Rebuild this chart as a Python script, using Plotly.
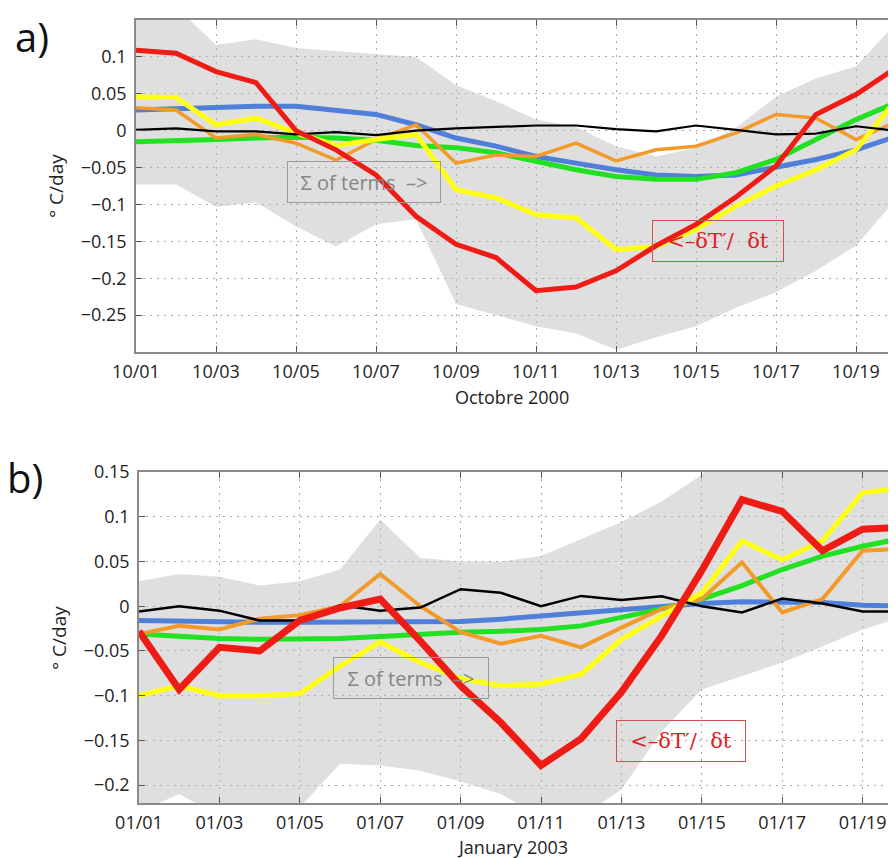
import plotly.graph_objects as go

# page window (the html body adds an 8 px margin around the figure)
PAGE_W, PAGE_H = 896, 858
OFF = 8
W, H = PAGE_W - OFF, PAGE_H - OFF

# ---------------- data: panel a (Octobre 2000) ----------------
days_a = list(range(1, 21))
red_a = [0.109, 0.105, 0.080, 0.065, 0.000, -0.026, -0.060, -0.116, -0.154, -0.172,
         -0.217, -0.212, -0.190, -0.156, -0.127, -0.090, -0.048, 0.022, 0.049, 0.085]
yellow_a = [0.046, 0.045, 0.008, 0.017, -0.003, -0.020, -0.012, -0.005, -0.080, -0.091,
            -0.114, -0.118, -0.161, -0.157, -0.134, -0.102, -0.075, -0.053, -0.026, 0.042]
blue_a = [0.028, 0.030, 0.031, 0.033, 0.033, 0.028, 0.022, 0.008, -0.010, -0.021,
          -0.035, -0.044, -0.053, -0.060, -0.062, -0.060, -0.050, -0.039, -0.026, -0.008]
green_a = [-0.015, -0.014, -0.012, -0.010, -0.009, -0.010, -0.013, -0.020, -0.023, -0.030,
           -0.042, -0.053, -0.062, -0.066, -0.066, -0.057, -0.039, -0.012, 0.015, 0.038]
orange_a = [0.031, 0.028, -0.010, -0.005, -0.017, -0.040, -0.012, 0.008, -0.044, -0.033,
            -0.035, -0.017, -0.041, -0.026, -0.021, -0.003, 0.022, 0.017, -0.012, 0.012]
black_a = [0.001, 0.003, -0.001, -0.001, -0.005, -0.002, -0.006, 0.000, 0.003, 0.005,
           0.007, 0.007, 0.002, -0.001, 0.007, 0.001, -0.005, -0.004, 0.006, 0.000]
upper_a = [0.190, 0.168, 0.116, 0.124, 0.112, 0.108, 0.103, 0.100, 0.062, 0.040,
           0.015, 0.005, -0.021, -0.035, -0.023, 0.004, 0.046, 0.071, 0.087, 0.146]
lower_a = [-0.073, -0.073, -0.103, -0.097, -0.130, -0.157, -0.127, -0.120, -0.235, -0.250,
           -0.265, -0.275, -0.297, -0.280, -0.265, -0.240, -0.219, -0.190, -0.156, -0.093]
xtick_days_a = [1, 3, 5, 7, 9, 11, 13, 15, 17, 19]
xtick_text_a = ["10/01", "10/03", "10/05", "10/07", "10/09", "10/11", "10/13", "10/15", "10/17", "10/19"]
ytick_vals_a = [0.1, 0.05, 0, -0.05, -0.1, -0.15, -0.2, -0.25]
ytick_text_a = ["0.1", "0.05", "0", "\u22120.05", "\u22120.1", "\u22120.15", "\u22120.2", "\u22120.25"]

# ---------------- data: panel b (January 2003) ----------------
days_b = list(range(1, 21))
red_b = [-0.028, -0.093, -0.046, -0.050, -0.016, -0.002, 0.008, -0.039, -0.089, -0.130,
         -0.178, -0.148, -0.096, -0.033, 0.040, 0.119, 0.106, 0.062, 0.086, 0.088]
yellow_b = [-0.100, -0.089, -0.100, -0.100, -0.098, -0.067, -0.040, -0.063, -0.081, -0.089,
            -0.087, -0.076, -0.037, -0.011, 0.015, 0.073, 0.052, 0.073, 0.127, 0.132]
orange_b = [-0.031, -0.022, -0.026, -0.014, -0.010, 0.000, 0.036, 0.000, -0.029, -0.042,
            -0.033, -0.046, -0.024, -0.003, 0.008, 0.049, -0.007, 0.008, 0.062, 0.064]
green_b = [-0.031, -0.034, -0.036, -0.037, -0.037, -0.036, -0.034, -0.031, -0.029, -0.028,
           -0.026, -0.022, -0.013, -0.003, 0.008, 0.023, 0.041, 0.056, 0.067, 0.076]
blue_b = [-0.016, -0.017, -0.017, -0.018, -0.018, -0.018, -0.018, -0.018, -0.017, -0.0145,
          -0.011, -0.007, -0.003, 0.000, 0.003, 0.005, 0.005, 0.004, 0.001, 0.000]
black_b = [-0.006, 0.000, -0.005, -0.016, -0.016, 0.001, -0.005, -0.0015, 0.019, 0.015,
           0.000, 0.0115, 0.007, 0.011, 0.000, -0.007, 0.0086, 0.003, -0.006, -0.006]
upper_b = [0.028, 0.036, 0.033, 0.023, 0.028, 0.041, 0.097, 0.054, 0.050, 0.050,
           0.056, 0.075, 0.094, 0.117, 0.147, 0.200, 0.220, 0.230, 0.240, 0.250]
lower_b = [-0.230, -0.210, -0.235, -0.235, -0.225, -0.176, -0.178, -0.184, -0.196, -0.210,
           -0.235, -0.235, -0.205, -0.140, -0.093, -0.078, -0.063, -0.045, -0.026, -0.012]
xtick_days_b = [1, 3, 5, 7, 9, 11, 13, 15, 17, 19]
xtick_text_b = ["01/01", "01/03", "01/05", "01/07", "01/09", "01/11", "01/13", "01/15", "01/17", "01/19"]
ytick_vals_b = [0.15, 0.1, 0.05, 0, -0.05, -0.1, -0.15, -0.2]
ytick_text_b = ["0.15", "0.1", "0.05", "0", "\u22120.05", "\u22120.1", "\u22120.15", "\u22120.2"]

# ---------------- styles ----------------
C_RED = "#ee1c14"
C_YEL = "#ffff14"
C_GRN = "#22e022"
C_BLU = "#4f7fd8"
C_ORG = "#f29a2a"
C_BLK = "#000000"
FILL = "rgba(185,185,185,0.45)"
FONT = "Open Sans"

fig = go.Figure()


def add_panel(days, upper, lower, series, xa, ya):
    fig.add_trace(go.Scatter(x=days, y=upper, mode="lines", line=dict(width=0, color=FILL),
                             xaxis=xa, yaxis=ya, showlegend=False, hoverinfo="skip"))
    fig.add_trace(go.Scatter(x=days, y=lower, mode="lines", line=dict(width=0, color=FILL),
                             fill="tonexty", fillcolor=FILL,
                             xaxis=xa, yaxis=ya, showlegend=False, hoverinfo="skip"))
    for vals, col, w in series:
        fig.add_trace(go.Scatter(x=days, y=vals, mode="lines", line=dict(color=col, width=w),
                                 xaxis=xa, yaxis=ya, showlegend=False))


add_panel(days_a, upper_a, lower_a,
          [(blue_a, C_BLU, 5), (green_a, C_GRN, 5), (orange_a, C_ORG, 3.5),
           (yellow_a, C_YEL, 5), (black_a, C_BLK, 2.2), (red_a, C_RED, 5)], "x", "y")
add_panel(days_b, upper_b, lower_b,
          [(blue_b, C_BLU, 5), (green_b, C_GRN, 5), (orange_b, C_ORG, 4),
           (yellow_b, C_YEL, 5), (black_b, C_BLK, 2.5), (red_b, C_RED, 7)], "x2", "y2")


def px_x(p):
    return (p - OFF) / W


def px_y(p):
    return 1 - (p - OFF) / H


axis_common = dict(showline=True, linecolor="#8a8a8a", linewidth=1.5,
                   ticks="inside", ticklen=6, tickcolor="#555555",
                   showgrid=True, gridcolor="#a9a9a9", griddash="2px,5px", gridwidth=1,
                   zeroline=False, tickfont=dict(family=FONT, size=18, color="#222222"))

fig.update_layout(
    width=W, height=H, margin=dict(l=0, r=0, t=0, b=0, autoexpand=False),
    paper_bgcolor="white", plot_bgcolor="white",
    xaxis=dict(domain=[px_x(136), px_x(896)], range=[1, 20], anchor="y",
               tickmode="array", tickvals=xtick_days_a, ticktext=xtick_text_a,
               mirror="ticks", ticklabelstandoff=3, **axis_common),
    yaxis=dict(domain=[px_y(352), px_y(20)], range=[-0.3, 0.15], anchor="x",
               tickmode="array", tickvals=ytick_vals_a, ticktext=ytick_text_a,
               ticklabelstandoff=4, **axis_common),
    xaxis2=dict(domain=[px_x(139), px_x(896)], range=[1, 19.83], anchor="y2",
                tickmode="array", tickvals=xtick_days_b, ticktext=xtick_text_b,
                mirror="ticks", ticklabelstandoff=3, **axis_common),
    yaxis2=dict(domain=[px_y(803), px_y(472)], range=[-0.22, 0.15], anchor="x2",
                tickmode="array", tickvals=ytick_vals_b, ticktext=ytick_text_b,
                ticklabelstandoff=4, **axis_common),
)

ann = []
# panel labels
ann.append(dict(text="a)", x=px_x(14), y=px_y(36), xref="paper", yref="paper",
                xanchor="left", yanchor="middle", showarrow=False, borderpad=0,
                font=dict(family=FONT, size=40, color="#111111")))
ann.append(dict(text="b)", x=px_x(6), y=px_y(477), xref="paper", yref="paper",
                xanchor="left", yanchor="middle", showarrow=False, borderpad=0,
                font=dict(family=FONT, size=40, color="#111111")))
# y titles
ann.append(dict(text="\u00b0 C/day", x=px_x(56), y=px_y(186), xref="paper", yref="paper",
                textangle=-90, showarrow=False, xanchor="center", yanchor="middle",
                font=dict(family=FONT, size=19, color="#222222")))
ann.append(dict(text="\u00b0 C/day", x=px_x(59), y=px_y(638), xref="paper", yref="paper",
                textangle=-90, showarrow=False, xanchor="center", yanchor="middle",
                font=dict(family=FONT, size=19, color="#222222")))
# x titles
ann.append(dict(text="Octobre 2000", x=px_x(512), y=px_y(397), xref="paper", yref="paper",
                showarrow=False, xanchor="center", yanchor="middle", borderpad=0,
                font=dict(family=FONT, size=18, color="#222222")))
ann.append(dict(text="January 2003", x=px_x(512), y=px_y(847), xref="paper", yref="paper",
                showarrow=False, xanchor="center", yanchor="middle", borderpad=0,
                font=dict(family=FONT, size=18, color="#222222")))
# in-plot boxes
ann.append(dict(text="\u03a3 of terms  \u2013>", x=6.69, y=-0.070, xref="x", yref="y",
                showarrow=False, width=150, height=38, borderpad=1,
                bordercolor="#9a9a9a", borderwidth=1,
                font=dict(family=FONT, size=20, color="#858585")))
ann.append(dict(text="<\u2013\u03b4T\u2032/  \u03b4t", x=15.55, y=-0.150, xref="x", yref="y",
                showarrow=False, width=128, height=38, borderpad=1,
                bordercolor="#d05050", borderwidth=1,
                font=dict(family="DejaVu Serif", size=21, color="#dd2222")))
ann.append(dict(text="\u03a3 of terms  \u2013>", x=7.77, y=-0.080, xref="x2", yref="y2",
                showarrow=False, width=152, height=38, borderpad=1,
                bordercolor="#9a9a9a", borderwidth=1,
                font=dict(family=FONT, size=20, color="#858585")))
ann.append(dict(text="<\u2013\u03b4T\u2032/  \u03b4t", x=14.48, y=-0.151, xref="x2", yref="y2",
                showarrow=False, width=126, height=38, borderpad=1,
                bordercolor="#d05050", borderwidth=1,
                font=dict(family="DejaVu Serif", size=21, color="#dd2222")))
fig.update_layout(annotations=ann)

fig.write_html("out.html")
